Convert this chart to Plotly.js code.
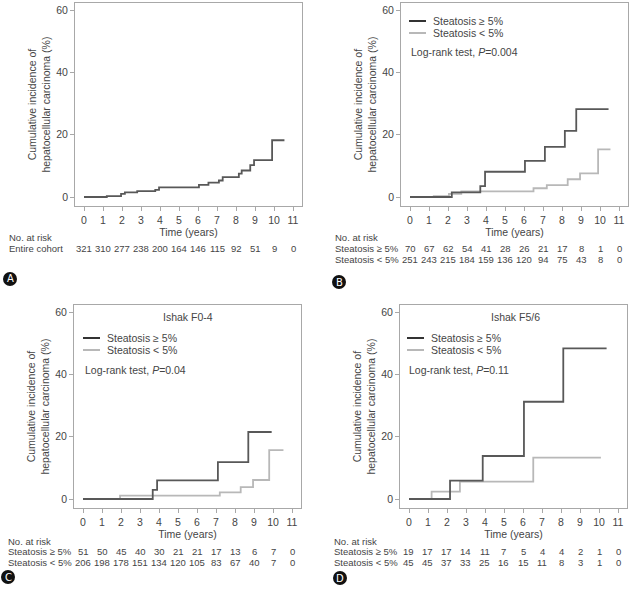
<!DOCTYPE html>
<html>
<head>
<meta charset="utf-8">
<script src="https://cdn.plot.ly/plotly-3.0.1.min.js"></script>
<style>
  html, body { margin: 0; padding: 0; background: #fff; }
  #chart { width: 632px; height: 589px; }
</style>
</head>
<body>
<div id="chart"></div>
<script>
// Panel A - entire cohort
const aTime = [0, 1.2, 1.95, 2.15, 2.8, 3.75, 3.95, 6.05, 6.55, 7.1, 7.3, 8.15, 8.3, 8.75, 8.95, 9.9, 10.55];
const aCum  = [0, 0.3, 1.0, 1.5, 1.9, 2.3, 3.1, 3.9, 4.6, 5.3, 6.4, 7.5, 8.5, 10.2, 11.8, 18.2, 18.2];

// Panel B - all patients by steatosis
const bHiTime = [0, 2.2, 3.7, 3.95, 6.05, 7.1, 8.15, 8.75, 10.45];
const bHiCum  = [0, 1.5, 3.5, 8.1, 11.6, 16.1, 21.2, 28.2, 28.2];
const bLoTime = [0, 1.25, 2.05, 2.7, 6.5, 7.2, 8.3, 8.95, 9.9, 10.55];
const bLoCum  = [0, 0.3, 1.0, 1.8, 2.8, 3.8, 5.7, 7.6, 15.3, 15.3];

// Panel C - Ishak F0-4
const cHiTime = [0, 3.67, 3.9, 7.1, 8.7, 9.93];
const cHiCum  = [0, 2.9, 6.0, 11.8, 21.5, 21.5];
const cLoTime = [0, 1.95, 7.2, 8.3, 8.95, 9.8, 10.55];
const cLoCum  = [0, 1.1, 2.1, 3.8, 6.1, 15.7, 15.7];

// Panel D - Ishak F5/6
const dHiTime = [0, 2.16, 3.88, 6.05, 8.12, 10.4];
const dHiCum  = [0, 5.9, 13.8, 31.2, 48.3, 48.3];
const dLoTime = [0, 1.19, 2.68, 6.54, 10.1];
const dLoCum  = [0, 2.35, 5.6, 13.3, 13.3];

// numbers at risk (years 0..11)
const riskYears = [0, 1, 2, 3, 4, 5, 6, 7, 8, 9, 10, 11];
const aRisk   = [321, 310, 277, 238, 200, 164, 146, 115, 92, 51, 9, 0];
const bRiskHi = [70, 67, 62, 54, 41, 28, 26, 21, 17, 8, 1, 0];
const bRiskLo = [251, 243, 215, 184, 159, 136, 120, 94, 75, 43, 8, 0];
const cRiskHi = [51, 50, 45, 40, 30, 21, 21, 17, 13, 6, 7, 0];
const cRiskLo = [206, 198, 178, 151, 134, 120, 105, 83, 67, 40, 7, 0];
const dRiskHi = [19, 17, 17, 14, 11, 7, 5, 4, 4, 2, 1, 0];
const dRiskLo = [45, 45, 37, 33, 25, 16, 15, 11, 8, 3, 1, 0];

const yTicks = [0, 20, 40, 60];
const hiLabel = "Steatosis \u2265 5%";
const loLabel = "Steatosis < 5%";

const W = 632, H = 589;
const FONT = "Liberation Sans, Arial, sans-serif";
const TXT = "#454545";
const DARK = "#585858", LIGHT = "#b8b8b8", FRAME = "#a8a8a8";
const TABLE = 9.5;

const px = x => x / W;
const py = y => 1 - y / H;

// pixel positions of tick 0 / tick 11 and of 0% / 60% for each panel
const panels = [
    { x0: 84,  x11: 293, y0: 197, y60: 10 },
    { x0: 410, x11: 619, y0: 197, y60: 10 },
    { x0: 83,  x11: 292, y0: 499, y60: 312 },
    { x0: 409, x11: 618, y0: 499, y60: 312 }
];
const xRange = [-0.47, 11.47], yRange = [-2.9, 62.2];

const layout = {
    width: W, height: H,
    margin: { l: 0, r: 0, t: 0, b: 0 },
    paper_bgcolor: "#fff", plot_bgcolor: "#fff",
    font: { family: FONT, size: 10, color: TXT },
    showlegend: false,
    shapes: [], annotations: []
};

panels.forEach((p, i) => {
    const n = i === 0 ? "" : String(i + 1);
    const ux = (p.x11 - p.x0) / 11, uy = (p.y0 - p.y60) / 60;
    const left = p.x0 + xRange[0] * ux, right = p.x0 + xRange[1] * ux;
    const bottom = p.y0 - yRange[0] * uy, top = p.y0 - yRange[1] * uy;
    layout["xaxis" + n] = {
        domain: [px(left), px(right)], range: xRange, anchor: "y" + n,
        tickvals: riskYears, ticks: "outside", ticklen: 4, tickcolor: FRAME,
        showline: true, linecolor: FRAME, linewidth: 1, mirror: true,
        showgrid: false, zeroline: false, fixedrange: true,
        tickfont: { size: 10.5, color: TXT },
        title: { text: "Time (years)", font: { size: 10.5, color: TXT }, standoff: 1 }
    };
    layout["yaxis" + n] = {
        domain: [py(bottom), py(top)], range: yRange, anchor: "x" + n,
        tickvals: yTicks, ticks: "outside", ticklen: 4, tickcolor: FRAME,
        showline: true, linecolor: FRAME, linewidth: 1, mirror: true,
        showgrid: false, zeroline: false, fixedrange: true,
        tickfont: { size: 10.5, color: TXT },
        title: { text: "Cumulative incidence of<br>hepatocellular carcinoma (%)",
                 font: { size: 10.5, color: TXT }, standoff: 3 }
    };
});

function step(x, y, color, width, n) {
    return { x: x, y: y, type: "scatter", mode: "lines", xaxis: "x" + n, yaxis: "y" + n,
             line: { shape: "hv", color: color, width: width }, hoverinfo: "skip" };
}

const traces = [
    step(aTime, aCum, DARK, 1.8, ""),
    step(bLoTime, bLoCum, LIGHT, 1.8, "2"),
    step(bHiTime, bHiCum, DARK, 1.8, "2"),
    step(cLoTime, cLoCum, LIGHT, 1.8, "3"),
    step(cHiTime, cHiCum, DARK, 1.8, "3"),
    step(dLoTime, dLoCum, LIGHT, 1.8, "4"),
    step(dHiTime, dHiCum, DARK, 1.8, "4")
];

function text(str, x, y, anchor, size, extra) {
    layout.annotations.push(Object.assign({
        text: str, x: px(x), y: py(y), xref: "paper", yref: "paper",
        xanchor: anchor || "left", yanchor: "middle", showarrow: false,
        font: { size: size || TABLE, color: TXT }
    }, extra || {}));
}

function riskRow(values, n, y) {
    values.forEach((v, k) => {
        layout.annotations.push({
            text: String(v), x: riskYears[k], y: py(y), xref: "x" + n, yref: "paper",
            xanchor: "center", yanchor: "middle", showarrow: false,
            font: { size: TABLE, color: TXT }
        });
    });
}

function legend(x, y) {
    layout.shapes.push(
        { type: "line", xref: "paper", yref: "paper", x0: px(x), x1: px(x + 17),
          y0: py(y), y1: py(y), line: { color: "#333", width: 2 } },
        { type: "line", xref: "paper", yref: "paper", x0: px(x), x1: px(x + 17),
          y0: py(y + 12), y1: py(y + 12), line: { color: LIGHT, width: 2 } }
    );
    text(hiLabel, x + 22, y, "left", 10.5);
    text(loLabel, x + 22, y + 12, "left", 10.5);
}

function badge(letter, cx, cy) {
    const r = 7;
    layout.shapes.push({ type: "circle", xref: "paper", yref: "paper",
        x0: px(cx - r), x1: px(cx + r), y0: py(cy + r), y1: py(cy - r),
        fillcolor: "#111", line: { width: 0 } });
    text(letter, cx, cy, "center", 10, { font: { size: 10, color: "#fff", family: "DejaVu Sans" } });
}

// panel A
text("No. at risk", 7, 237);
text("Entire cohort", 7, 248);
riskRow(aRisk, "", 248);
badge("A", 10, 279);

// panel B
legend(409, 21);
text("Log-rank test, <i>P</i>=0.004", 409, 52, "left", 10.5);
text("No. at risk", 333, 237);
text(hiLabel, 333, 248);
text(loLabel, 333, 260);
riskRow(bRiskHi, "2", 248);
riskRow(bRiskLo, "2", 260);
badge("B", 339, 282);

// panel C
text("Ishak F0-4", 188, 317, "center", 10.5);
legend(83, 338);
text("Log-rank test, <i>P</i>=0.04", 83, 370, "left", 10.5);
text("No. at risk", 6, 541);
text(hiLabel, 6, 551);
text(loLabel, 6, 562);
riskRow(cRiskHi, "3", 551);
riskRow(cRiskLo, "3", 562);
badge("C", 8, 577);

// panel D
text("Ishak F5/6", 515, 317, "center", 10.5);
legend(407, 338);
text("Log-rank test, <i>P</i>=0.11", 407, 370, "left", 10.5);
text("No. at risk", 332, 541);
text(hiLabel, 332, 551);
text(loLabel, 332, 562);
riskRow(dRiskHi, "4", 551);
riskRow(dRiskLo, "4", 562);
badge("D", 340, 578);

Plotly.newPlot("chart", traces, layout, { displayModeBar: false, staticPlot: true });
</script>
</body>
</html>
